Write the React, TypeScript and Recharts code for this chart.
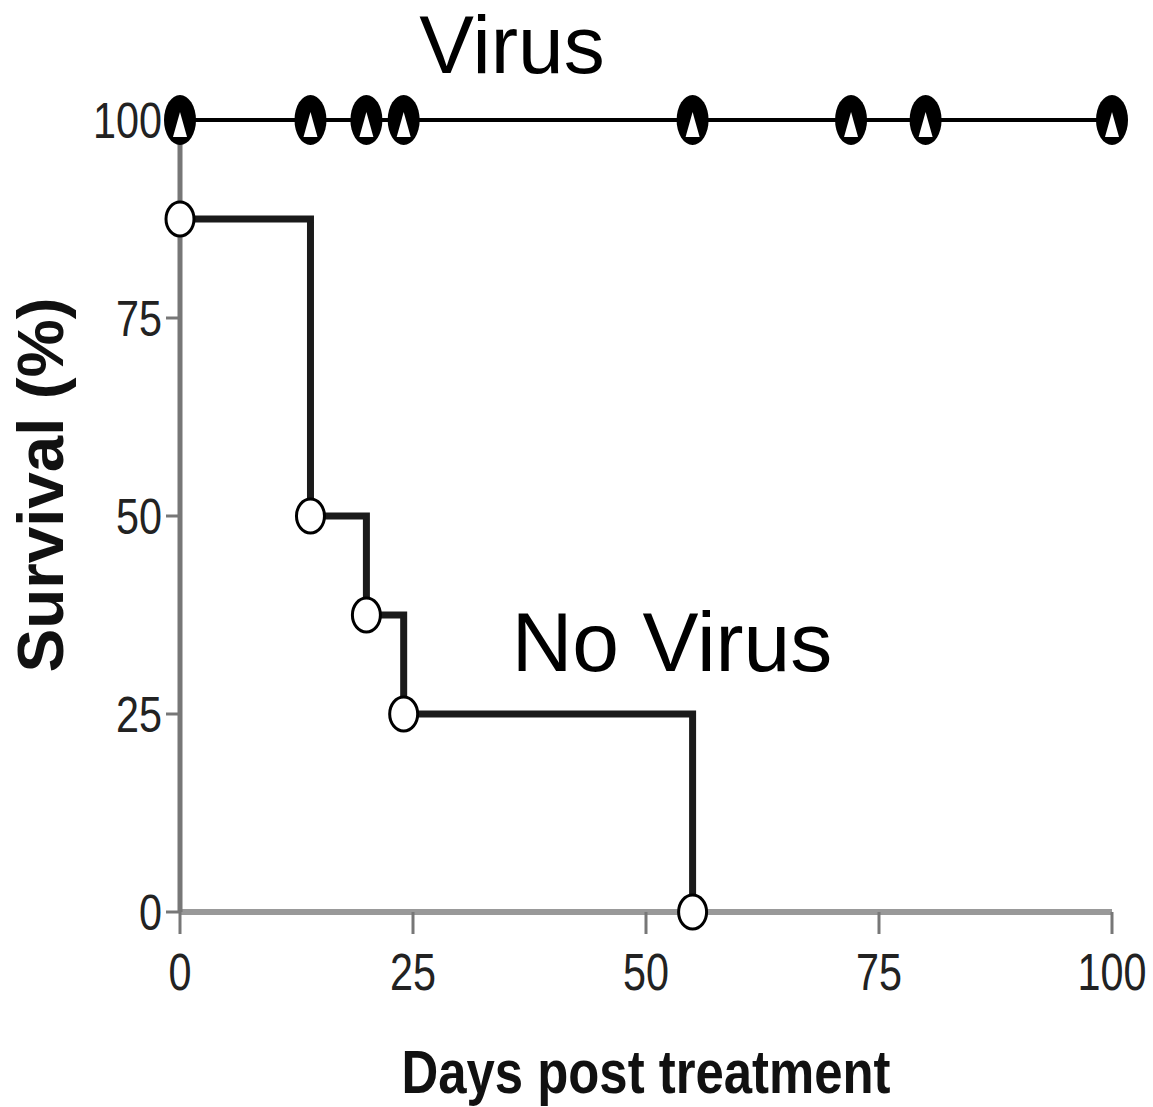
import { LineChart, Line, XAxis, YAxis } from "recharts";

const virusDays = [0, 14, 20, 24, 55, 72, 80, 100];
const virusSurvival = [100, 100, 100, 100, 100, 100, 100, 100];
const noVirusDays = [0, 14, 20, 24, 55];
const noVirusSurvival = [87.5, 50, 37.5, 25, 0];
const xTicks = [0, 25, 50, 75, 100];
const yTicks = [0, 25, 50, 75, 100];

const virusData = virusDays.map((day, i) => ({ day, survival: virusSurvival[i] }));
const noVirusData = noVirusDays.map((day, i) => ({ day, survival: noVirusSurvival[i] }));

const sans = "'Liberation Sans', Arial, sans-serif";

// narrow digits: squeeze Liberation Sans to ~23px per digit
const NarrowTick = (props: any) => {
  const { x, y, payload, textAnchor, axis } = props;
  const label = String(payload.value);
  const isX = axis === "x";
  return (
    <text
      x={x}
      y={y}
      dy={isX ? "0.71em" : "0.355em"}
      textAnchor={textAnchor}
      fontFamily={sans}
      fontSize={isX ? 52 : 50}
      fill="#222"
      textLength={label.length * (isX ? 23 : 23)}
      lengthAdjust="spacingAndGlyphs"
    >
      {label}
    </text>
  );
};

const VirusDot = (props: any) => {
  const { cx, cy, index } = props;
  if (cx == null || cy == null) return null;
  return (
    <g key={`v-${index}`}>
      <ellipse cx={cx} cy={cy} rx={16} ry={25} fill="#000" />
      <path d={`M${cx} ${cy - 8} L${cx + 7} ${cy + 17} L${cx - 7} ${cy + 17} Z`} fill="#fff" />
    </g>
  );
};

const NoVirusDot = (props: any) => {
  const { cx, cy, index } = props;
  if (cx == null || cy == null) return null;
  return (
    <ellipse
      key={`n-${index}`}
      cx={cx}
      cy={cy}
      rx={14}
      ry={17}
      fill="#fff"
      stroke="#000"
      strokeWidth={3}
    />
  );
};

export default function App() {
  return (
    <div style={{ position: "absolute", left: 0, top: 0, width: 1153, height: 1107, background: "#fff" }}>
      <LineChart
        width={1153}
        height={1107}
        margin={{ top: 120, right: 41, left: 0, bottom: 0 }}
      >
        <XAxis
          dataKey="day"
          type="number"
          domain={[0, 100]}
          ticks={xTicks}
          height={195}
          allowDuplicatedCategory={false}
          stroke="#999"
          axisLine={{ stroke: "#999", strokeWidth: 6 }}
          tickLine={{ stroke: "#777", strokeWidth: 3 }}
          tickSize={22}
          tickMargin={19}
          tick={(p: any) => <NarrowTick {...p} axis="x" />}
          label={{
            content: ({ viewBox }: any) => (
              <text
                x={viewBox.x + viewBox.width / 2}
                y={1093}
                textAnchor="middle"
                fontFamily={sans}
                fontWeight="bold"
                fontSize={62}
                fill="#111"
                textLength={489}
                lengthAdjust="spacingAndGlyphs"
              >
                Days post treatment
              </text>
            ),
          }}
        />
        <YAxis
          dataKey="survival"
          type="number"
          domain={[0, 100]}
          ticks={yTicks}
          width={180}
          stroke="#777"
          axisLine={{ stroke: "#777", strokeWidth: 5 }}
          tickLine={{ stroke: "#777", strokeWidth: 3 }}
          tickSize={14}
          tickMargin={4}
          tick={(p: any) => <NarrowTick {...p} axis="y" />}
          label={{
            content: () => (
              <text
                x={63}
                y={485}
                transform="rotate(-90 63 485)"
                textAnchor="middle"
                fontFamily={sans}
                fontWeight="bold"
                fontSize={64}
                fill="#111"
                textLength={375}
                lengthAdjust="spacingAndGlyphs"
              >
                Survival (%)
              </text>
            ),
          }}
        />
        <Line
          data={noVirusData}
          dataKey="survival"
          type="stepAfter"
          stroke="#1a1a1a"
          strokeWidth={7}
          dot={<NoVirusDot />}
          activeDot={false}
          isAnimationActive={false}
        />
        <Line
          data={virusData}
          dataKey="survival"
          type="linear"
          stroke="#000"
          strokeWidth={4}
          dot={<VirusDot />}
          activeDot={false}
          isAnimationActive={false}
        />
      </LineChart>
      <svg
        width={1153}
        height={1107}
        style={{ position: "absolute", left: 0, top: 0, pointerEvents: "none" }}
      >
        <text x={512} y={73} textAnchor="middle" fontFamily={sans} fontSize={82} fill="#000">
          Virus
        </text>
        <text x={672} y={671} textAnchor="middle" fontFamily={sans} fontSize={84} fill="#000">
          No Virus
        </text>
      </svg>
    </div>
  );
}
